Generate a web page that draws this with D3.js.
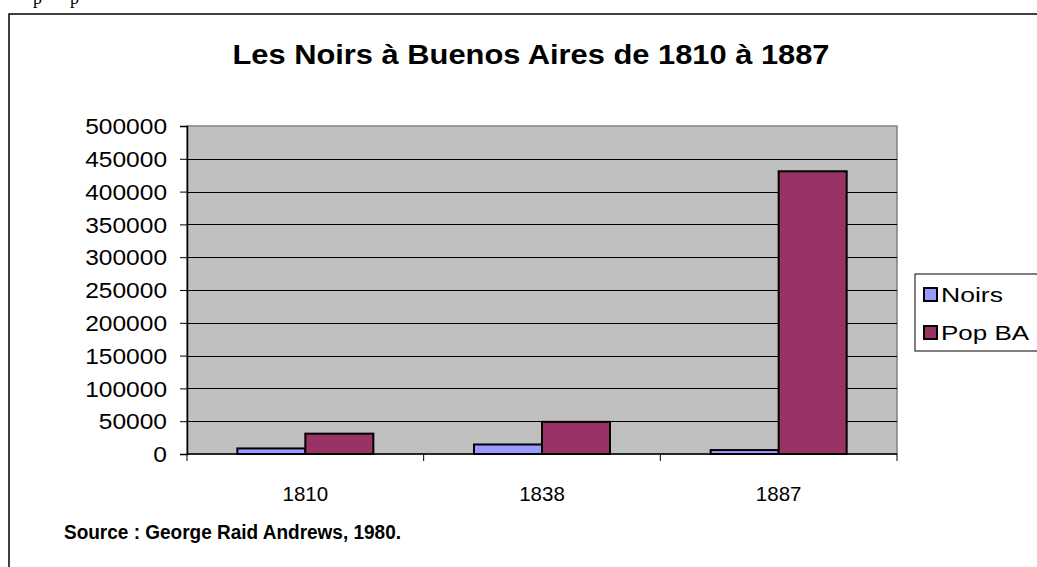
<!DOCTYPE html>
<html><head><meta charset="utf-8">
<script src="https://cdn.jsdelivr.net/npm/d3@7"></script>
<style>html,body{margin:0;padding:0;background:#fff;overflow:hidden}</style>
</head><body>
<svg id="c" width="1037" height="567"></svg>
<script>
const title = "Les Noirs à Buenos Aires de 1810 à 1887";
const source = "Source : George Raid Andrews, 1980.";
const categories = ["1810", "1838", "1887"];
const seriesNames = ["Noirs", "Pop BA"];
const noirs = [8500, 14500, 6000];
const popBA = [31000, 49000, 431000];
const yTicks = [0, 50000, 100000, 150000, 200000, 250000, 300000, 350000, 400000, 450000, 500000];
const colors = ["#9999FF", "#993366"];

const svg = d3.select("#c");
const font = "Arial, 'Liberation Sans', sans-serif";

function stretch(sel, k) {
  sel.each(function () {
    const w = this.getComputedTextLength();
    d3.select(this).attr("textLength", w * k).attr("lengthAdjust", "spacingAndGlyphs");
  });
}

// cropped text above frame
svg.append("text").attr("x", 33).attr("y", 4).attr("font-family", "'Liberation Serif', serif").attr("font-size", 18).text("p");
svg.append("text").attr("x", 70).attr("y", 4).attr("font-family", "'Liberation Serif', serif").attr("font-size", 18).text("p");

// outer frame
svg.append("rect").attr("x", 9).attr("y", 14).attr("width", 1040).attr("height", 570)
  .attr("fill", "#fff").attr("stroke", "#000").attr("stroke-width", 1.5);

const L = 187, R = 897, T = 126, B = 454;
const x0 = d3.scaleBand().domain(categories).range([L, R]).paddingInner(0).paddingOuter(0);
const x1 = d3.scaleBand().domain(seriesNames).range([0, 136]);
const y = d3.scaleLinear().domain([0, 500000]).range([B, T]);

// plot area
svg.append("rect").attr("x", L).attr("y", T).attr("width", R - L).attr("height", B - T)
  .attr("fill", "#C0C0C0").attr("stroke", "#808080").attr("stroke-width", 1.5);

// gridlines
svg.append("g").selectAll("line").data(yTicks.filter(d => d > 0 && d < 500000)).join("line")
  .attr("x1", L).attr("x2", R).attr("y1", d => Math.round(y(d)) + 0.5).attr("y2", d => Math.round(y(d)) + 0.5)
  .attr("stroke", "#000").attr("stroke-width", 1);

// bars
const data = categories.map((c, i) => ({cat: c, vals: [noirs[i], popBA[i]]}));
const groups = svg.append("g").selectAll("g").data(data).join("g")
  .attr("transform", d => `translate(${x0(d.cat) + (x0.bandwidth() - 136) / 2},0)`);
groups.selectAll("rect").data(d => d.vals.map((v, j) => ({s: seriesNames[j], v, j}))).join("rect")
  .attr("x", d => x1(d.s)).attr("width", x1.bandwidth())
  .attr("y", d => y(d.v)).attr("height", d => B - y(d.v))
  .attr("fill", d => colors[d.j]).attr("stroke", "#000").attr("stroke-width", 2);

// y axis
const yAxis = d3.axisLeft(y).tickValues(yTicks).tickSize(7).tickPadding(13).tickFormat(d3.format("d"));
const ya = svg.append("g").attr("transform", `translate(${L},0)`).call(yAxis);
ya.select(".domain").attr("stroke", "#000").attr("stroke-width", 1.5);
ya.selectAll(".tick line").attr("stroke", "#000");
ya.selectAll("text").attr("font-family", font).attr("font-size", 21.5).attr("fill", "#000").attr("dy", "0.36em");
stretch(ya.selectAll("text"), 1.14);

// x axis
const xa = svg.append("g").attr("transform", `translate(0,${B})`);
xa.append("line").attr("x1", L).attr("x2", R).attr("y1", 0).attr("y2", 0).attr("stroke", "#000").attr("stroke-width", 1.5);
xa.selectAll("line.t").data(d3.range(categories.length + 1)).join("line").attr("class", "t")
  .attr("x1", i => L + i * x0.step()).attr("x2", i => L + i * x0.step())
  .attr("y1", 0).attr("y2", 7).attr("stroke", "#000");
xa.selectAll("text").data(categories).join("text")
  .attr("x", d => x0(d) + x0.bandwidth() / 2).attr("y", 47)
  .attr("text-anchor", "middle").attr("font-family", font).attr("font-size", 20.5).text(d => d);

// title
svg.append("text").attr("x", 531).attr("y", 64).attr("text-anchor", "middle")
  .attr("font-family", font).attr("font-weight", "bold").attr("font-size", 28)
  .attr("textLength", 597).attr("lengthAdjust", "spacingAndGlyphs").text(title);

// source
svg.append("text").attr("x", 64).attr("y", 539)
  .attr("font-family", font).attr("font-weight", "bold").attr("font-size", 19.5)
  .attr("textLength", 337).attr("lengthAdjust", "spacingAndGlyphs").text(source);

// legend
const legendW = [62, 88];
const lg = svg.append("g");
lg.append("rect").attr("x", 915).attr("y", 274).attr("width", 125).attr("height", 77)
  .attr("fill", "#fff").attr("stroke", "#000").attr("stroke-width", 1);
seriesNames.forEach((s, i) => {
  const yy = 302 + i * 38;
  lg.append("rect").attr("x", 924).attr("y", yy - 14).attr("width", 13).attr("height", 13)
    .attr("fill", colors[i]).attr("stroke", "#000").attr("stroke-width", 2);
  lg.append("text").attr("x", 941).attr("y", yy).attr("font-family", font).attr("font-size", 21)
    .attr("textLength", legendW[i]).attr("lengthAdjust", "spacingAndGlyphs").text(s);
});
</script>
</body></html>
